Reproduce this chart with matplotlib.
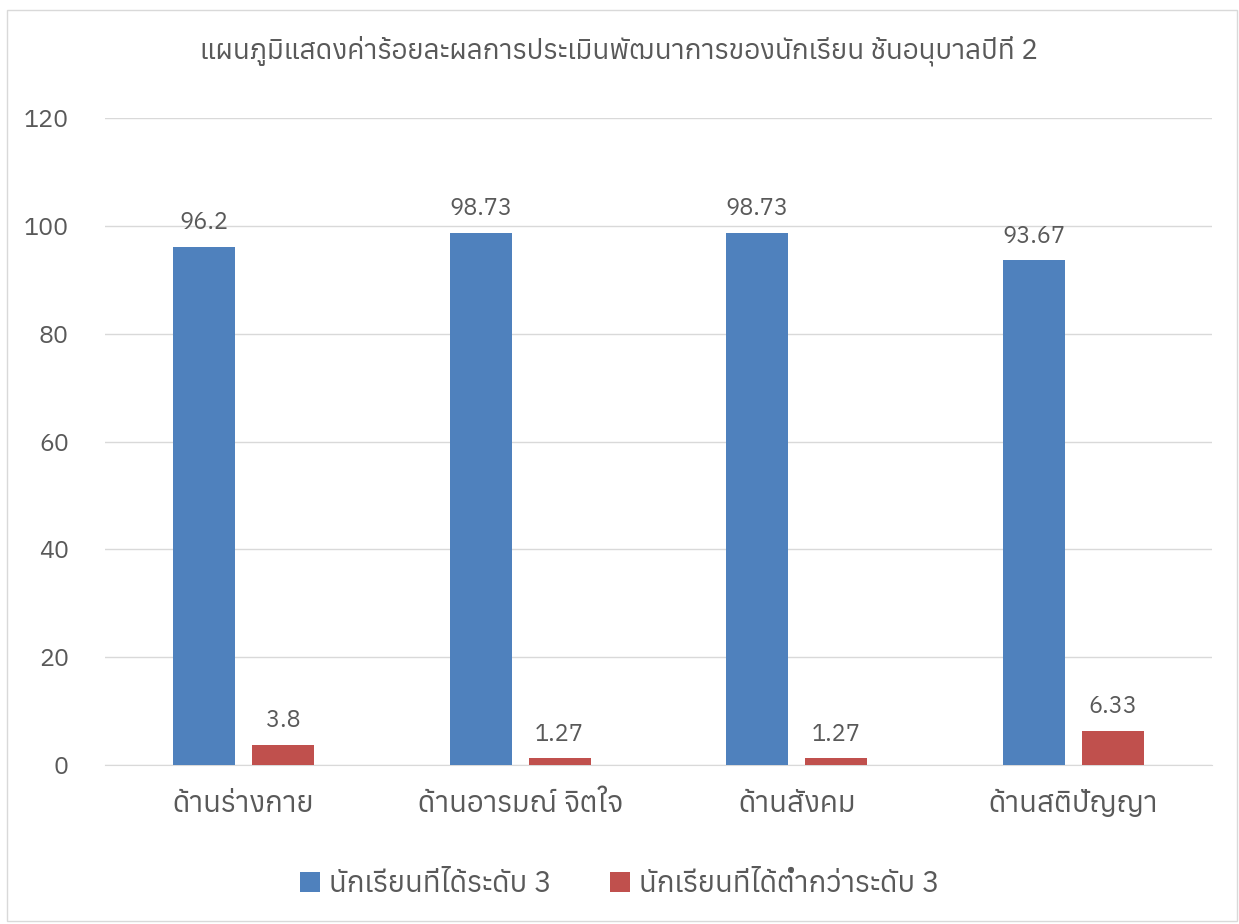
import matplotlib
matplotlib.use("Agg")
import matplotlib.pyplot as plt
from matplotlib import font_manager as fm
from matplotlib.ft2font import FT2Font
import numpy as np

categories = ['ด้านร่างกาย', 'ด้านอารมณ์ จิตใจ', 'ด้านสังคม', 'ด้านสติปัญญา']
level3 = [96.2, 98.73, 98.73, 93.67]
below3 = [3.8, 1.27, 1.27, 6.33]
series_names = ['นักเรียนที่ได้ระดับ 3', 'นักเรียนที่ได้ต่ำกว่าระดับ 3']
title = 'แผนภูมิแสดงค่าร้อยละผลการประเมินพัฒนาการของนักเรียน ชั้นอนุบาลปีที่ 2'

# find a font that has Thai glyphs
thai_fonts = []
for f in fm.fontManager.ttflist:
    try:
        if 0x0E01 in FT2Font(f.fname).get_charmap():
            thai_fonts.append(f.name)
    except Exception:
        pass
thai_fonts = sorted(set(thai_fonts))
plt.rcParams['font.family'] = thai_fonts[:1] + ['DejaVu Sans']

blue = '#4F81BD'
red = '#C0504D'
txt = '#595959'

fig = plt.figure(figsize=(12.39, 9.24), dpi=100)
ax = fig.add_axes([0.0847, 0.172, 0.8935, 0.7])

x = np.arange(len(categories))
w = 0.224
b1 = ax.bar(x - 0.143, level3, w, color=blue, zorder=3)
b2 = ax.bar(x + 0.143, below3, w, color=red, zorder=3)
ax.bar_label(b1, labels=[f'{v:g}' for v in level3], padding=9, fontsize=17, color=txt)
ax.bar_label(b2, labels=[f'{v:g}' for v in below3], padding=9, fontsize=17, color=txt)

ax.set_xlim(-0.5, 3.5)
ax.set_ylim(0, 120)
ax.set_yticks(range(0, 121, 20))
ax.yaxis.grid(True, color='#D9D9D9', linewidth=1)
ax.set_axisbelow(True)
for s in ['top', 'right', 'left']:
    ax.spines[s].set_visible(False)
ax.spines['bottom'].set_color('#D9D9D9')
ax.tick_params(axis='y', length=0, labelsize=18, labelcolor=txt, pad=26)
ax.tick_params(axis='x', length=0, labelsize=21, labelcolor=txt, pad=18)
ax.set_xticks(x)
ax.set_xticklabels(categories)

fig.text(0.5, 0.945, title, ha='center', va='center', fontsize=20, color=txt)
fig.legend([b1, b2], series_names, loc='center', bbox_to_anchor=(0.5, 0.043),
           ncol=2, frameon=False, fontsize=21, labelcolor=txt,
           handlelength=0.7, handleheight=0.7, handletextpad=0.3, columnspacing=2.0)

fig.patches.append(plt.Rectangle((0.006, 0.003), 0.992, 0.986, transform=fig.transFigure,
                                 fill=False, edgecolor='#D9D9D9', linewidth=1))
fig.savefig('out.png', dpi=100)
